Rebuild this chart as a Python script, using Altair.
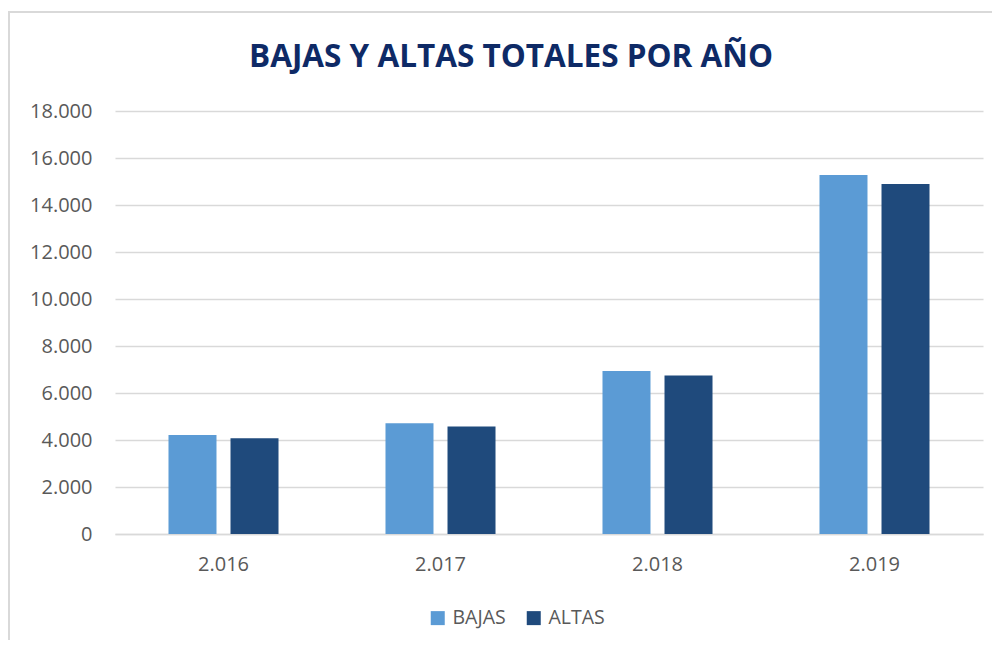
import altair as alt
import pandas as pd

years = ["2.016", "2.017", "2.018", "2.019"]
series = ["BAJAS", "ALTAS"]
bajas = [4210, 4710, 6940, 15280]
altas = [4075, 4570, 6740, 14890]
colors = ["#5B9BD5", "#1F4A7C"]
title_text = ["BAJAS Y ALTAS TOTALES POR AÑO"]

rows = []
for i, y in enumerate(years):
    rows.append({"year": y, "serie": "BAJAS", "value": bajas[i]})
    rows.append({"year": y, "serie": "ALTAS", "value": altas[i]})
df = pd.DataFrame(rows)
tdf = pd.DataFrame({"t": title_text})

FONT = "Open Sans"
GRID = "#D9D9D9"
LABEL = "#595959"

bars = alt.Chart(df).mark_bar().encode(
    x=alt.X("year:N", sort=years, title=None,
            scale=alt.Scale(paddingInner=0.493, paddingOuter=0.2465),
            axis=alt.Axis(labelAngle=0, ticks=False, domainColor=GRID, domainWidth=1.5,
                          labelPadding=20, labelFontSize=20, labelColor=LABEL, labelFont=FONT,
                          grid=False)),
    xOffset=alt.XOffset("serie:N", sort=series,
                        scale=alt.Scale(paddingInner=0.226, paddingOuter=0)),
    y=alt.Y("value:Q", title=None,
            scale=alt.Scale(domain=[0, 18000], nice=False),
            axis=alt.Axis(values=list(range(0, 18001, 2000)), domain=False, ticks=False,
                          labelPadding=23, labelFontSize=20, labelColor=LABEL, labelFont=FONT,
                          gridColor=GRID, gridWidth=1.5,
                          labelExpr="replace(format(datum.value, ','), ',', '.')")),
    color=alt.Color("serie:N", sort=series,
                    scale=alt.Scale(domain=series, range=colors),
                    legend=alt.Legend(title=None, orient="none", direction="horizontal",
                                      legendX=313, legendY=497, symbolType="square",
                                      symbolSize=196, symbolStrokeWidth=0, labelFontSize=19.5,
                                      labelColor=LABEL, labelFont=FONT, labelOffset=5,
                                      columnPadding=18, padding=0)),
)

frame_left = alt.Chart(tdf).mark_rule(color=GRID, strokeWidth=2).encode(
    x=alt.value(-106), y=alt.value(-99), y2=alt.value(545))
frame_top = alt.Chart(tdf).mark_rule(color=GRID, strokeWidth=2).encode(
    x=alt.value(-107), x2=alt.value(877), y=alt.value(-99))

title = alt.Chart(tdf).mark_text(font=FONT, fontSize=31.5, fontWeight="bold", color="#0E2A66",
                                 align="center", baseline="alphabetic").encode(
    text="t:N", x=alt.value(396), y=alt.value(-44))

chart = alt.layer(frame_left, frame_top, bars, title).properties(
    width=868, height=423,
    autosize=alt.AutoSizeParams(type="none"),
    padding={"left": 107, "top": 103, "right": 9, "bottom": 106},
    background="white",
).configure_view(stroke=None)

chart.save("out.html", embed_options={"renderer": "svg", "actions": False})
